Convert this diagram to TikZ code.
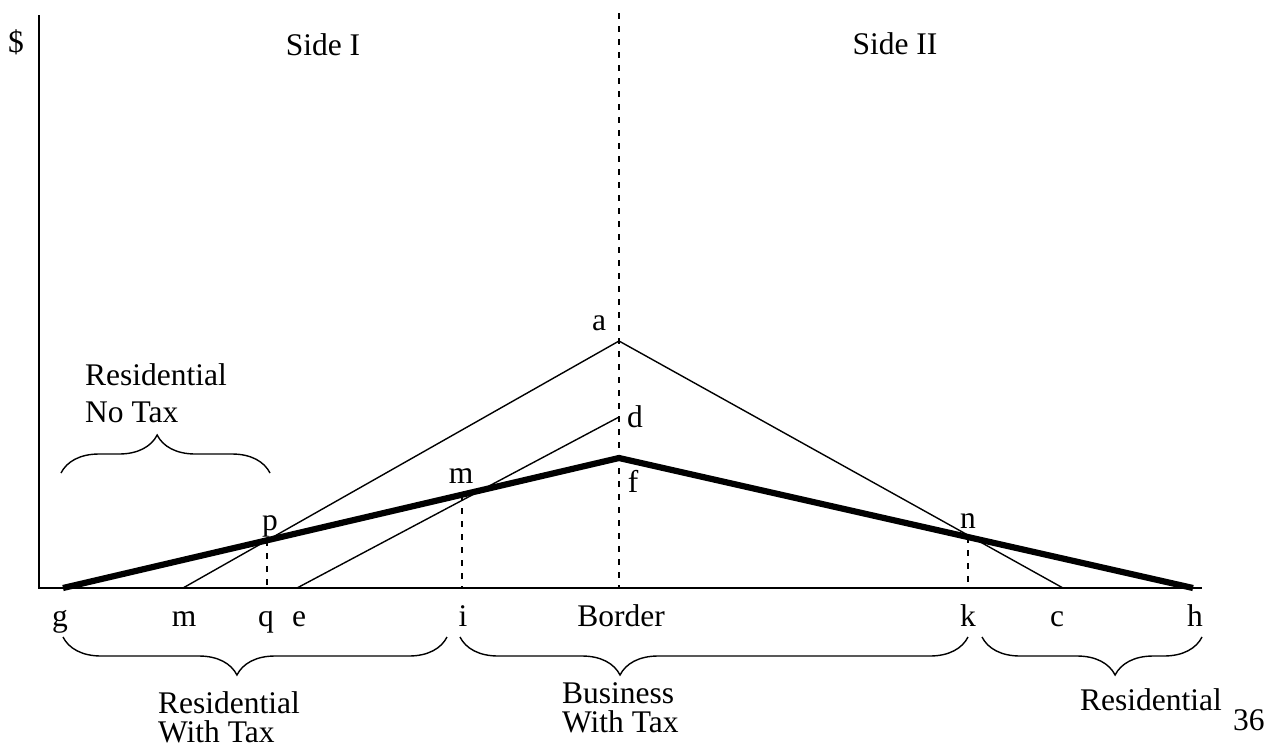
\documentclass[tikz,border=0pt]{standalone}
\usepackage{fontspec}
\setmainfont{Liberation Serif}
\usetikzlibrary{decorations.pathreplacing}
\begin{document}
\begin{tikzpicture}[x=1pt,y=-1pt,
  lbl/.style={font=\fontsize{31.5}{37}\selectfont, inner sep=0pt, anchor=base},
  lblw/.style={lbl, anchor=base west},
  axisline/.style={line width=2pt},
  thinline/.style={line width=1.4pt},
  thickline/.style={line width=6.2pt},
  dashline/.style={line width=1.6pt, dash pattern=on 6pt off 7pt},
  mybrace/.style={decorate, decoration={brace, amplitude=38pt, aspect=#1}, line width=1.4pt}]
\useasboundingbox (0,0) rectangle (1276,755);
% coordinates
\coordinate (ytop) at (39,15);
\coordinate (O) at (39,588);
\coordinate (xend) at (1202,588);
\coordinate (btop) at (619,13);
\coordinate (bbot) at (619,588);
\coordinate (A) at (619,341);
\coordinate (C) at (1063,588);
\coordinate (M0) at (183,588);
\coordinate (E) at (297,588);
\coordinate (D) at (619,417);
\coordinate (G) at (63,588);
\coordinate (F) at (619,458);
\coordinate (H) at (1193,588);
\coordinate (P) at (267,540);
\coordinate (Q) at (267,588);
\coordinate (M) at (462,495);
\coordinate (I) at (462,588);
\coordinate (N) at (968,537);
\coordinate (K) at (968,588);
% brace ends
\coordinate (b1r) at (447,637);
\coordinate (b1l) at (63,637);
\coordinate (b2r) at (968,637);
\coordinate (b2l) at (460,637);
\coordinate (b3r) at (1202,637);
\coordinate (b3l) at (982,637);
\coordinate (b4l) at (61,473);
\coordinate (b4r) at (270,473);
% axes
\draw[axisline] (ytop) -- (O) -- (xend);
% border
\draw[dashline] (btop) -- (bbot);
% curves
\draw[thinline] (M0) -- (A) -- (C);
\draw[thinline] (E) -- (D);
\draw[thickline] (G) -- (F) -- (H);
% drop lines
\draw[dashline] (P) -- (Q);
\draw[dashline] (M) -- (I);
\draw[dashline] (N) -- (K);
% braces
\draw[mybrace=0.547] (b1r) -- (b1l);
\draw[mybrace=0.685] (b2r) -- (b2l);
\draw[mybrace=0.395] (b3r) -- (b3l);
\draw[mybrace=0.46] (b4l) -- (b4r);
% labels
\node[lbl] (dollar) at (16,52) {\$};
\node[lbl] (side1) at (323,55) {Side I};
\node[lbl] (side2) at (895,54) {Side II};
\node[lbl] (la) at (599,330) {a};
\node[lbl] (ld) at (635,427) {d};
\node[lbl] (lf) at (633,492) {f};
\node[lbl] (lm) at (461,483) {m};
\node[lbl] (lp) at (270,530) {p};
\node[lbl] (ln) at (968,528) {n};
\node[lbl] (lg) at (60,626) {g};
\node[lbl] (lm2) at (184,626) {m};
\node[lbl] (lq) at (266,626) {q};
\node[lbl] (le) at (299,626) {e};
\node[lbl] (li) at (463,626) {i};
\node[lbl] (lborder) at (621,626) {Border};
\node[lbl] (lk) at (968,626) {k};
\node[lbl] (lc) at (1057,626) {c};
\node[lbl] (lh) at (1195,626) {h};
\node[lblw] (rnt1) at (85,385) {Residential};
\node[lblw] (rnt2) at (85,422) {No Tax};
\node[lblw] (rwt1) at (158,713) {Residential};
\node[lblw] (rwt2) at (158,742) {With Tax};
\node[lblw] (bwt1) at (562,703) {Business};
\node[lblw] (bwt2) at (562,732) {With Tax};
\node[lblw] (res) at (1080,710) {Residential};
\node[lblw] (pg) at (1233,730) {36};
\end{tikzpicture}
\end{document}
